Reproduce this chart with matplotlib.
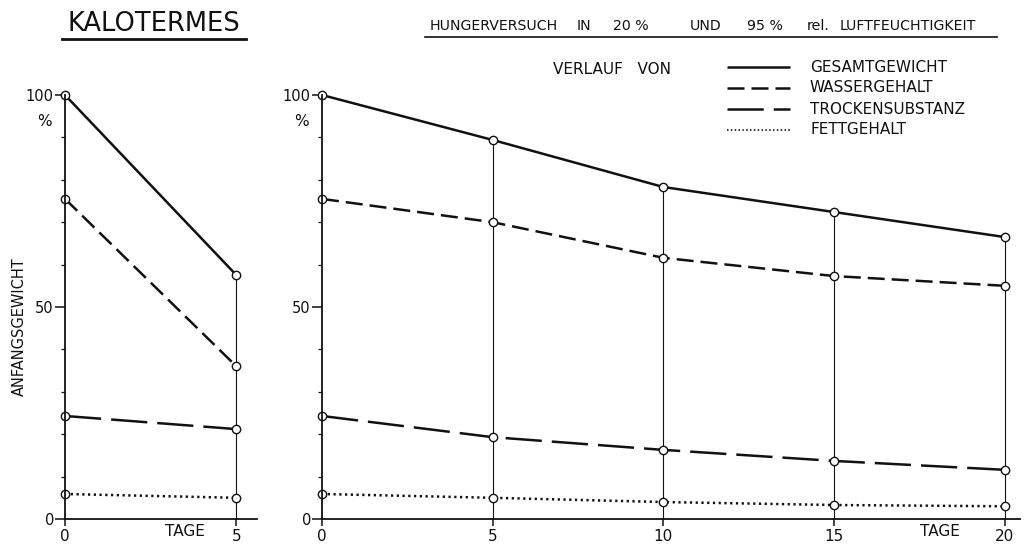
import matplotlib
matplotlib.use("Agg")
import matplotlib.pyplot as plt
from matplotlib.lines import Line2D

# Tage
days_short = [0, 5]
days_long = [0, 5, 10, 15, 20]

# Kalotermes, Werte in % des Anfangsgewichts
gesamt_short = [100, 57.5]
wasser_short = [75.5, 36.0]
trocken_short = [24.3, 21.2]
fett_short = [5.9, 5.0]

gesamt_long = [100, 89.4, 78.3, 72.4, 66.5]
wasser_long = [75.5, 70.0, 61.6, 57.3, 55.0]
trocken_long = [24.3, 19.3, 16.3, 13.7, 11.6]
fett_long = [5.9, 5.0, 4.0, 3.3, 3.0]

series_names = ["GESAMTGEWICHT", "WASSERGEHALT", "TROCKENSUBSTANZ", "FETTGEHALT"]
header_words = ["HUNGERVERSUCH", "IN", "20 %", "UND", "95 %", "rel.", "LUFTFEUCHTIGKEIT"]

INK = "#111111"
LW = 1.8
styles = [
    dict(linestyle="-"),
    dict(dashes=(6.8, 2.8)),
    dict(dashes=(14.5, 4.0)),
    dict(dashes=(0.9, 1.4)),
]

W, H = 1024, 546
fig = plt.figure(figsize=(W / 100, H / 100), dpi=100)


def fx(px):
    return px / W


def fy(py):
    return 1 - py / H


def draw_panel(ax, days, series, xmax, xticks):
    ax.set_xlim(0, xmax)
    ax.set_ylim(0, 100)
    for s in ["top", "right"]:
        ax.spines[s].set_visible(False)
    for s in ["left", "bottom"]:
        ax.spines[s].set_linewidth(1.3)
        ax.spines[s].set_color(INK)
        ax.spines[s].set_zorder(4)
    # thin verticals at each day
    top = series[0]
    for d, t in zip(days[1:], top[1:]):
        ax.plot([d, d], [0, t], color=INK, lw=0.8, zorder=1)
    for vals, st in zip(series, styles):
        ax.plot(days, vals, color=INK, lw=LW, zorder=2, clip_on=False,
                solid_capstyle="butt", dash_capstyle="butt", **st)
        ax.plot(days, vals, "o", ms=6, mfc="white", mec=INK, mew=1.0,
                zorder=3, clip_on=False)
    ax.set_yticks([0, 50, 100])
    ax.set_yticks(range(10, 100, 10), minor=True)
    ax.tick_params(axis="y", which="major", length=7, width=1.1, color=INK,
                   labelsize=10.5, pad=1, labelcolor=INK)
    ax.tick_params(axis="y", which="minor", length=3, width=0.9, color=INK)
    ax.set_xticks(xticks)
    ax.tick_params(axis="x", which="major", length=5, width=1.1, color=INK,
                   labelsize=11, pad=2, labelcolor=INK)
    ax.set_facecolor("none")


ax1 = fig.add_axes([fx(65), fy(519), fx(192), (519 - 95) / H])
draw_panel(ax1, days_short,
           [gesamt_short, wasser_short, trocken_short, fett_short],
           5.6, days_short)

ax2 = fig.add_axes([fx(322), fy(519), fx(698), (519 - 95) / H])
draw_panel(ax2, days_long,
           [gesamt_long, wasser_long, trocken_long, fett_long],
           20.45, days_long)

# titles
fig.text(fx(154), fy(24), "KALOTERMES", fontsize=18.5, ha="center",
         va="center", color=INK)
fig.add_artist(Line2D([fx(62), fx(246)], [fy(39), fy(39)], color=INK, lw=2.0))

header_x = [430, 577, 613, 690, 747, 807, 840]
for word, x in zip(header_words, header_x):
    fig.text(fx(x), fy(26), word, fontsize=10.2, ha="left", va="center",
             color=INK)
fig.add_artist(Line2D([fx(425), fx(997)], [fy(37), fy(37)], color=INK, lw=1.2))

# axis annotations
fig.text(fx(19), fy(327), "ANFANGSGEWICHT", rotation=90, fontsize=10.5,
         ha="center", va="center", color=INK)
fig.text(fx(44), fy(121), "%", fontsize=11, ha="center", va="center", color=INK)
fig.text(fx(301), fy(121), "%", fontsize=11, ha="center", va="center", color=INK)
fig.text(fx(185), fy(531), "TAGE", fontsize=11, ha="center", va="center", color=INK)
fig.text(fx(940), fy(531), "TAGE", fontsize=11, ha="center", va="center", color=INK)

# legend
fig.text(fx(553), fy(70), "VERLAUF   VON", fontsize=11, ha="left",
         va="center", color=INK)
rows = [67, 88, 109, 130]
for name, st, r in zip(series_names, styles, rows):
    fig.add_artist(Line2D([fx(727), fx(790)], [fy(r), fy(r)], color=INK,
                          lw=LW if st.get("dashes") != (0.9, 1.4) else 1.2,
                          solid_capstyle="butt", dash_capstyle="butt", **st))
    fig.text(fx(810), fy(r), name, fontsize=11, ha="left", va="center",
             color=INK)

fig.savefig("out.png", dpi=100)
